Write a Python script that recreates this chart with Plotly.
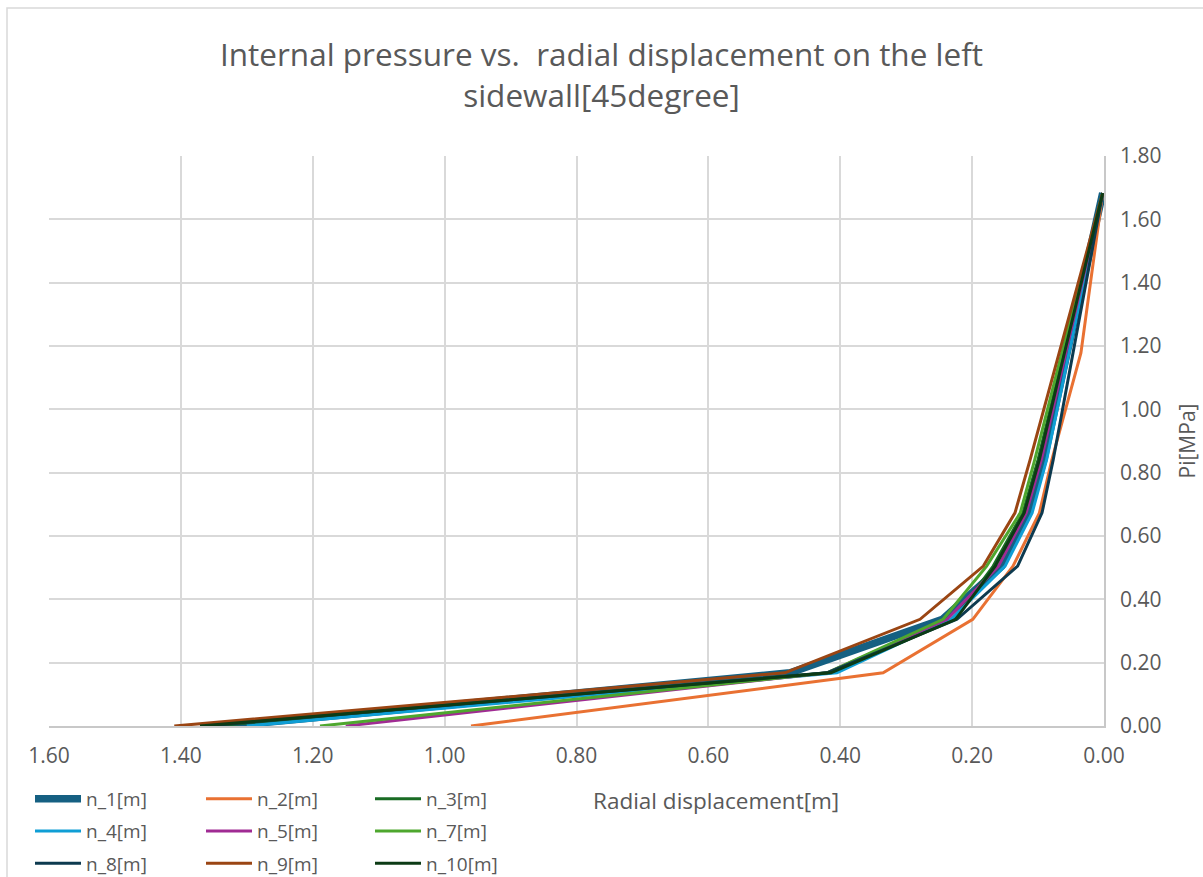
import plotly.graph_objects as go

# Internal pressure load steps [MPa]
pressure = [0.0, 0.168, 0.337, 0.505, 0.673, 0.841, 1.178, 1.683]

# Radial displacement [m] of each monitoring point at every load step
n_1 = [1.330, 0.476, 0.245, 0.155, 0.115, 0.091, 0.056, 0.002]
n_2 = [0.960, 0.335, 0.199, 0.138, 0.098, 0.079, 0.035, 0.002]
n_3 = [1.350, 0.418, 0.228, 0.168, 0.123, 0.100, 0.061, 0.002]
n_4 = [1.300, 0.405, 0.232, 0.150, 0.109, 0.087, 0.053, 0.002]
n_5 = [1.150, 0.420, 0.238, 0.160, 0.118, 0.095, 0.058, 0.002]
n_7 = [1.189, 0.420, 0.244, 0.178, 0.127, 0.105, 0.064, 0.002]
n_8 = [1.363, 0.420, 0.223, 0.131, 0.094, 0.077, 0.047, 0.002]
n_9 = [1.410, 0.484, 0.279, 0.183, 0.135, 0.112, 0.068, 0.002]
n_10 = [1.371, 0.414, 0.225, 0.165, 0.121, 0.098, 0.060, 0.002]

series = [
    ("n_1[m]", n_1, "#156082", 7.5, "legend"),
    ("n_2[m]", n_2, "#E97132", 3, "legend2"),
    ("n_3[m]", n_3, "#196B24", 3, "legend3"),
    ("n_4[m]", n_4, "#0F9ED5", 3, "legend"),
    ("n_5[m]", n_5, "#A02B93", 3, "legend2"),
    ("n_7[m]", n_7, "#4EA72E", 3, "legend3"),
    ("n_8[m]", n_8, "#0D3A4F", 3, "legend"),
    ("n_9[m]", n_9, "#9A4513", 3, "legend2"),
    ("n_10[m]", n_10, "#0C3B15", 3, "legend3"),
]

FONT = "Open Sans"
GREY = "#595959"
GRID = "#D9D9D9"

fig = go.Figure()
for name, disp, color, width, leg in series:
    fig.add_trace(go.Scatter(
        x=disp, y=pressure, mode="lines", name=name,
        line=dict(color=color, width=width),
        legend=leg, legendgroup=name,
    ))

# plot area in pixels: left 49, right 1104, top 156, bottom 726
W, H = 1203, 877
L, R, T, B = 49, 1104, 156, 726
pw, ph = R - L, B - T


def px_x(px):
    return (px - L) / pw


def px_y(py):
    return (B - py) / ph


legend_common = dict(
    orientation="v", xanchor="left", yanchor="top",
    font=dict(family=FONT, size=19, color=GREY),
    bgcolor="rgba(0,0,0,0)", borderwidth=0,
    itemwidth=46, tracegroupgap=4.5,
)

fig.update_layout(
    width=W, height=H,
    margin=dict(l=L, r=W - R, t=T, b=H - B, autoexpand=False),
    paper_bgcolor="white", plot_bgcolor="white",
    font=dict(family=FONT, size=19, color=GREY),
    title=dict(
        text="Internal pressure vs.  radial displacement on the left<br>sidewall[45degree]",
        x=0.5, xanchor="center", y=1 - 66 / H, yanchor="middle",
        font=dict(family=FONT, size=31.5, color=GREY),
    ),
    xaxis=dict(
        range=[1.6, 0.0], dtick=0.2, tickformat=".2f",
        showgrid=True, gridcolor=GRID, gridwidth=1.5,
        showline=True, linecolor="#C8C8C8", linewidth=1.5,
        zeroline=False, ticks="", ticklabelstandoff=10,
        tickfont=dict(family=FONT, size=21, color=GREY),
    ),
    yaxis=dict(
        range=[0.0, 1.8], dtick=0.2, tickformat=".2f", side="right",
        showgrid=True, gridcolor=GRID, gridwidth=1.5,
        showline=True, linecolor="#C8C8C8", linewidth=1.5,
        zeroline=False, ticks="", ticklabelstandoff=10,
        tickfont=dict(family=FONT, size=21, color=GREY),
        title=dict(text="Pi[MPa]", standoff=20,
                   font=dict(family=FONT, size=21, color=GREY)),
    ),
    legend=dict(x=px_x(30), y=px_y(780), **legend_common),
    legend2=dict(x=px_x(201), y=px_y(780), **legend_common),
    legend3=dict(x=px_x(370), y=px_y(780), **legend_common),
    showlegend=True,
)

# x-axis title sits beside the legend, below the tick labels
fig.add_annotation(
    text="Radial displacement[m]", xref="paper", yref="paper",
    x=px_x(591), y=px_y(800), xanchor="left", yanchor="middle",
    showarrow=False, font=dict(family=FONT, size=22.5, color=GREY),
)

# chart-area border
fig.add_shape(
    type="rect", xref="paper", yref="paper",
    x0=px_x(7), x1=px_x(1215), y0=px_y(895), y1=px_y(8),
    line=dict(color=GRID, width=1.5), fillcolor="rgba(0,0,0,0)", layer="below",
)

fig.write_html("out.html")
